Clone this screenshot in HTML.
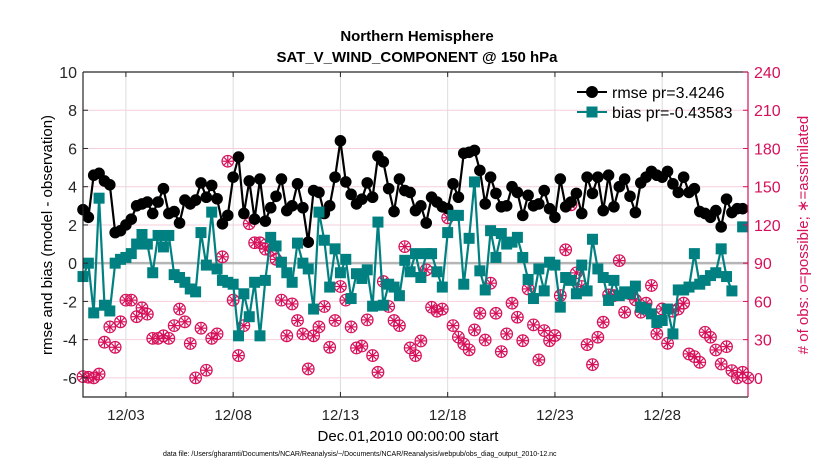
<!DOCTYPE html>
<html><head><meta charset="utf-8"><style>
html,body{margin:0;padding:0;background:#fff;}
svg{display:block;font-family:"Liberation Sans",Arial,sans-serif;}
</style></head><body>
<svg id="chart" width="830" height="470" viewBox="0 0 830 470" xmlns="http://www.w3.org/2000/svg">
<text x="417" y="41" text-anchor="middle" font-size="15" font-weight="bold">Northern Hemisphere</text>
<text x="417" y="62" text-anchor="middle" font-size="15" font-weight="bold">SAT_V_WIND_COMPONENT @ 150 hPa</text>
<g id="grid"></g>
<g id="series"></g>
<g id="axes"></g>
<text transform="translate(52,235) rotate(-90)" text-anchor="middle" font-size="15">rmse and bias (model - observation)</text>
<text transform="translate(808,235) rotate(-90)" text-anchor="middle" font-size="15" fill="#d6105a"># of obs: o=possible; ∗=assimilated</text>
<text x="408" y="441" text-anchor="middle" font-size="15">Dec.01,2010 00:00:00 start</text>
<text x="163" y="456" font-size="7">data file: /Users/gharamti/Documents/NCAR/Reanalysis/~/Documents/NCAR/Reanalysis/webpub/obs_diag_output_2010-12.nc</text>
<g id="legend">
<line x1="577" y1="92" x2="607" y2="92" stroke="#000" stroke-width="2"/>
<circle cx="592" cy="92" r="6" fill="#000"/>
<text x="612" y="98" font-size="16">rmse pr=3.4246</text>
<line x1="577" y1="112" x2="607" y2="112" stroke="#008080" stroke-width="2"/>
<rect x="586.5" y="106.5" width="11" height="11" fill="#008080"/>
<text x="612" y="118" font-size="16">bias pr=-0.43583</text>
</g>
</svg>
<script>
const rmse = [2.8,2.4,4.6,4.7,4.3,4.1,1.6,1.7,2.0,2.3,3.0,3.1,3.2,2.6,3.2,3.9,2.6,2.7,2.1,3.3,3.1,3.3,4.2,3.45,
4.07,
3.37,2.06,2.5,4.5,5.55,2.6,4.3,2.3,4.4,2.2,2.9,3.5,4.4,2.75,3.0,4.15,2.9,1.1,3.8,3.7,2.6,3.0,4.5,
6.4,4.25,3.6,3.1,3.35,4.2,3.45,5.6,5.3,3.9,2.7,4.4,3.8,3.7,2.75,3.0,2.1,3.45,3.2,2.95,2.85,4.15,3.45,5.75,5.8,5.9,
4.85,3.1,4.5,3.65,2.95,3.0,4.0,3.7,2.5,3.55,3.0,3.1,3.8,2.85,2.4,4.4,2.95,3.2,3.65,2.6,4.5,3.65,4.5,2.75,4.6,
2.95,4.0,4.4,3.5,2.65,4.2,4.5,4.8,4.6,4.5,4.8,4.15,3.7,4.5,3.7,3.9,2.7,2.6,2.4,2.75,1.9,3.35,2.65,2.85,2.85];
const bias = [-0.7,0,-2.6,3.4,-2.2,-2.5,0,0.2,0.3,0.5,1.0,1.5,1.0,-0.5,1.45,0.85,1.45,-0.6,-0.75,-1.0,-1.35,-1.5,1.6,-0.1,
2.67,-0.3,-0.9,-1.0,-1.1,-3.8,-1.6,-2.8,-1.0,-3.8,-0.9,1.35,0.9,0.05,-0.5,-1.0,1.05,0,-0.3,-2.4,2.67,1.2,-1.25,0.75,
-0.5,0.2,-1.85,-0.55,-0.8,-0.35,-2.25,2.15,-2.2,-1.1,-1.25,-1.7,0.15,-0.45,0.5,-0.75,0.5,0.5,-0.45,-1.25,1.6,2.5,2.5,-1.1,1.3,4.25,
-0.4,-1.4,1.7,0.3,1.55,1.0,1.1,1.35,0.3,-0.85,-1.85,-0.3,-1.45,0.05,-0.1,-2.3,-0.75,-0.9,-1.6,-0.1,-1.45,1.25,-0.3,-0.75,-1.95,
-0.9,-1.7,-1.5,-1.6,-1.2,-2.3,-2.4,-2.65,-3.1,-3.0,-2.4,-3.7,-1.4,-1.4,-1.25,0.5,-1.1,-0.9,-0.65,-0.5,0.75,-0.7,-1.45,null,1.9];
const nobs = [1,0.5,0,3,28,40,24,44,61,61,48,55,50,31,31,33,31,41,54,44,27,0,39,6,
31,34.5,95,170,61,17.5,41,121,106,106,101,100,93,61,33,58,45,34.5,7,33,40,56,24,45,71.7,
61,40,23.5,25,45.5,17.5,4.4,75.6,56,45,41,103,23.5,17.5,29,84.8,55.4,52.3,54,125.6,41,32,26.6,22,37.6,
50.7,29.7,74.3,50.7,20.6,34.5,58.6,47.6,29.2,69.8,41.6,14.1,37.1,29.2,33.2,64.6,100.5,135.8,82.4,71.7,26.1,10.4,31.9,43.7,65.1,
64.6,92,51.5,65.9,61.2,51.5,58.6,72.5,34.5,54.1,27.1,52.3,54.1,58.6,18.8,16.7,12.2,35.8,31.9,21.9,10.9,24.5,5.7,0,4.4,0];
const leftTicks = [-6,-4,-2,0,2,4,6,8,10];
const rightTicks = [0,30,60,90,120,150,180,210,240];
const xTickDays = [2,7,12,17,22,27];
const xTickLabels = ["12/03","12/08","12/13","12/18","12/23","12/28"];
const stepDays = 0.25;

const NS = "http://www.w3.org/2000/svg";
const X0 = 83, X1 = 748, Y0 = 72, Y1 = 397;
const D0 = 0, D1 = 31, V0 = -7, V1 = 10;
function xScale(d){ return X0 + (d - D0) / (D1 - D0) * (X1 - X0); }
function yScale(v){ return Y1 - (v - V0) / (V1 - V0) * (Y1 - Y0); }
function yRight(c){ return yScale((c - 90) / 15); }
function mk(tag, attrs, parent){ const e = document.createElementNS(NS, tag); for (const k in attrs) e.setAttribute(k, attrs[k]); parent.appendChild(e); return e; }
const grid = document.getElementById('grid'), series = document.getElementById('series'), axes = document.getElementById('axes');
const PINK = "#d6105a";

// grid
rightTicks.forEach(t => {
  const y = yRight(t);
  const l = mk('line', {x1:X0, x2:X1, y1:y, y2:y, stroke:'#f6cfdc', 'stroke-width':1}, grid);
  
  
});
xTickDays.forEach(d => {
  const x = xScale(d);
  const l = mk('line', {x1:x, x2:x, y1:Y0, y2:Y1, stroke:'#dcdcdc', 'stroke-width':1}, grid);
  
  
});
const zl = mk('line', {x1:X0, x2:X1, y1:yScale(0), y2:yScale(0), stroke:'#b5b5b5', 'stroke-width':2.5}, grid);



// obs count markers
nobs.forEach((c, i) => {
  if (c === null) return;
  const x = xScale(i * stepDays), y = yRight(c);
  const g = mk('g', {stroke:PINK, 'stroke-width':1.2, fill:'none'}, series);
  
  
  mk('circle', {cx:x, cy:y, r:5.8}, g);
  const r = 5.2;
  mk('line', {x1:x-r, x2:x+r, y1:y, y2:y}, g);
  mk('line', {x1:x, x2:x, y1:y-r, y2:y+r}, g);
  const q = r * 0.7;
  mk('line', {x1:x-q, x2:x+q, y1:y-q, y2:y+q}, g);
  mk('line', {x1:x-q, x2:x+q, y1:y+q, y2:y-q}, g);
});

function lineSeries(vals, color, name){
  let d = '', pen = false;
  vals.forEach((v, i) => {
    if (v === null) { pen = false; return; }
    d += (pen ? 'L' : 'M') + xScale(i * stepDays).toFixed(1) + ' ' + yScale(v).toFixed(1) + ' ';
    pen = true;
  });
  const p = mk('path', {d:d, stroke:color, 'stroke-width':2.2, fill:'none', 'stroke-linejoin':'round'}, series);
  
  
}
lineSeries(rmse, '#000', 'rmse-line');
lineSeries(bias, '#008080', 'bias-line');
rmse.forEach((v, i) => {
  if (v === null) return;
  const c = mk('circle', {cx:xScale(i * stepDays), cy:yScale(v), r:5.8, fill:'#000'}, series);
  
  
});
bias.forEach((v, i) => {
  if (v === null) return;
  const s = mk('rect', {x:xScale(i * stepDays) - 5.5, y:yScale(v) - 5.5, width:11, height:11, fill:'#008080'}, series);
  
  
});

// axes
const frame = mk('path', {d:`M${X0} ${Y0} L${X1} ${Y0} M${X0} ${Y0} L${X0} ${Y1} L${X1} ${Y1}`, stroke:'#262626', 'stroke-width':1.2, fill:'none'}, axes);


const ra = mk('line', {x1:X1, x2:X1, y1:Y0, y2:Y1, stroke:PINK, 'stroke-width':1.2}, axes);


leftTicks.forEach(t => {
  const y = yScale(t);
  mk('line', {x1:X0, x2:X0+5, y1:y, y2:y, stroke:'#262626'}, axes);
  const tx = mk('text', {x:X0-6, y:y+6, 'text-anchor':'end', 'font-size':16, fill:'#262626'}, axes);
  tx.textContent = t;
  
  
});
rightTicks.forEach(t => {
  const y = yRight(t);
  mk('line', {x1:X1-5, x2:X1, y1:y, y2:y, stroke:PINK}, axes);
  const tx = mk('text', {x:X1+6, y:y+6, 'font-size':16, fill:PINK}, axes);
  tx.textContent = t;
  
  
});
xTickDays.forEach((d, k) => {
  const x = xScale(d);
  mk('line', {x1:x, x2:x, y1:Y1, y2:Y1-5, stroke:'#262626'}, axes);
  mk('line', {x1:x, x2:x, y1:Y0, y2:Y0+5, stroke:'#262626'}, axes);
  const tx = mk('text', {x:x, y:420, 'text-anchor':'middle', 'font-size':15, fill:'#262626'}, axes);
  tx.textContent = xTickLabels[k];
  
  
});
</script>
</body></html>
